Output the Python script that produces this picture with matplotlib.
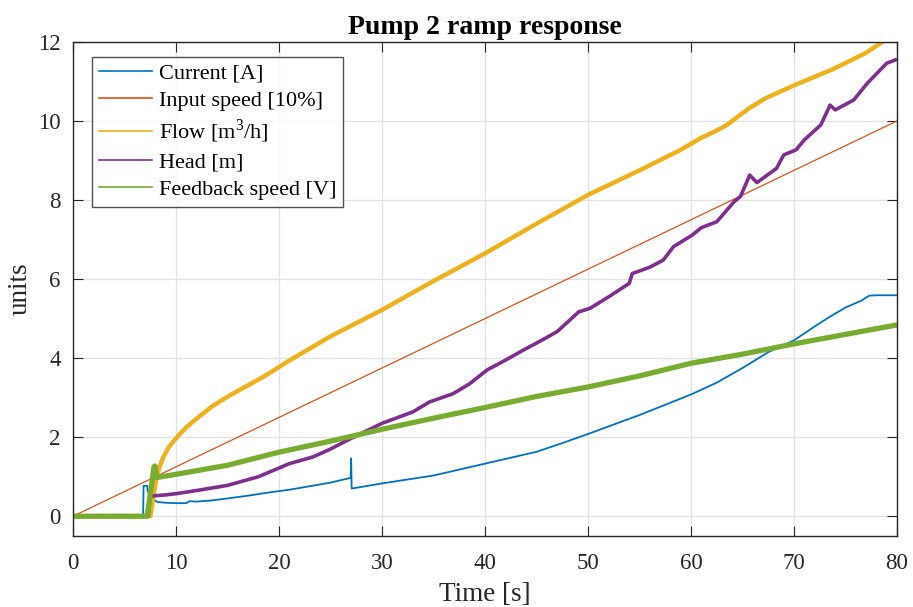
import matplotlib
matplotlib.use("Agg")
import matplotlib.pyplot as plt
from matplotlib.lines import Line2D

plt.rcParams['font.family'] = ['Liberation Serif', 'DejaVu Serif']
plt.rcParams['mathtext.fontset'] = 'custom'
plt.rcParams['mathtext.rm'] = 'Liberation Serif'

# ---- data ----
current_t = [0, 6.8, 6.85, 7.2, 7.25, 7.55, 7.8, 8.2, 9.0, 10.0, 11.0, 11.3, 12.0, 13.5, 15, 17, 19, 21, 23, 25,
             26.95, 27.0, 27.05, 30, 32.5, 35, 37.5, 40, 42.5, 45, 47.5, 50, 52.5, 55, 57.5, 60, 62.5,
             65, 67.5, 70, 72, 73.5, 75, 76.5, 77.3, 78, 80]
current_v = [0, 0, 0.77, 0.77, 0.62, 0.6, 0.42, 0.36, 0.34, 0.33, 0.33, 0.38, 0.37, 0.40, 0.45, 0.52, 0.6, 0.67, 0.76, 0.85,
             0.97, 1.46, 0.70, 0.83, 0.93, 1.03, 1.18, 1.33, 1.48, 1.63, 1.85, 2.08, 2.32, 2.56, 2.82, 3.08, 3.38,
             3.75, 4.15, 4.45, 4.8, 5.05, 5.28, 5.45, 5.58, 5.59, 5.59]

input_t = [0, 80]
input_v = [0, 10]

flow_t = [0, 7.5, 7.8, 8.12, 8.4, 8.77, 9.3, 10.16, 11.0, 12.0, 13.5, 15.24, 18.5, 21.07, 25, 30, 35, 40, 45, 50,
          55, 59, 60.9, 62.5, 63.5, 64.6, 65.7, 67.2, 70, 73.7, 76.9, 78.9, 80]
flow_v = [0, 0, 0.5, 1.0, 1.25, 1.5, 1.75, 2.02, 2.25, 2.47, 2.78, 3.06, 3.53, 3.95, 4.55, 5.22, 5.95, 6.65, 7.4, 8.13,
          8.75, 9.27, 9.56, 9.76, 9.9, 10.12, 10.33, 10.57, 10.9, 11.3, 11.71, 12.05, 12.25]

head_t = [0, 7.3, 7.5, 8, 9, 10, 12, 15, 18, 21, 23.3, 25, 27, 30, 33, 34.6, 36.9, 38.5, 40.2, 42, 43.7,
          45.5, 47, 49.1, 50.2, 52, 54, 54.3, 56, 57.3, 58.3, 60.1, 61, 62.5, 64.2, 64.8, 65.7, 66.4,
          68.3, 69, 70.2, 71, 72.6, 73.5, 74, 75.8, 77.1, 79, 80]
head_v = [0, 0, 0.50, 0.52, 0.54, 0.57, 0.65, 0.78, 1.0, 1.33, 1.5, 1.7, 1.97, 2.35, 2.64, 2.89, 3.1, 3.35, 3.7, 3.95, 4.2,
          4.45, 4.67, 5.17, 5.26, 5.55, 5.89, 6.14, 6.3, 6.48, 6.82, 7.11, 7.3, 7.45, 7.96, 8.09, 8.63, 8.44,
          8.8, 9.14, 9.27, 9.52, 9.9, 10.4, 10.28, 10.53, 10.95, 11.46, 11.56]

fb_t = [0, 7.2, 7.86, 7.95, 8.12, 10, 15, 20, 25, 30, 35, 40, 45, 50, 55, 60, 65, 70.2, 75, 80]
fb_v = [0, 0, 1.25, 1.27, 0.98, 1.06, 1.29, 1.62, 1.9, 2.2, 2.48, 2.75, 3.03, 3.27, 3.55, 3.87, 4.1, 4.37, 4.6, 4.84]

labels = ['Current [A]', 'Input speed [10%]', r'Flow [m$^3$/h]', 'Head [m]', 'Feedback speed [V]']
colors = ['#0072BD', '#D95319', '#EDB120', '#7E2F8E', '#77AC30']
xticks = [0, 10, 20, 30, 40, 50, 60, 70, 80]
yticks = [0, 2, 4, 6, 8, 10, 12]

fig = plt.figure(figsize=(9.13, 6.07), dpi=100)
ax = fig.add_axes([0.080, 0.117, 0.9025, 0.814])

series = [(current_t, current_v, 1.3), (input_t, input_v, 0.9), (flow_t, flow_v, 3.2),
          (head_t, head_v, 2.6), (fb_t, fb_v, 3.8)]
for (t, v, lw), c in zip(series, colors):
    ax.plot(t, v, color=c, lw=lw, solid_joinstyle='round', solid_capstyle='butt')

ax.set_xlim(0, 80)
ax.set_ylim(-0.5, 12)
ax.set_xticks(xticks)
ax.set_yticks(yticks)
ax.grid(True, color='#e3e3e3', lw=1)
ax.set_axisbelow(True)
ax.tick_params(direction='in', length=7, width=0.8, top=True, right=True,
               labelsize=16.5, colors='#262626', pad=9)
ax.tick_params(axis='x', pad=12)
for s in ax.spines.values():
    s.set_color('#262626')
    s.set_linewidth(1.0)

ax.set_xlabel('Time [s]', fontsize=19.5, color='#262626', labelpad=6)
ax.set_ylabel('units', fontsize=19.5, color='#262626', labelpad=4)
ax.set_title('Pump 2 ramp response', fontsize=20, fontweight='bold', pad=6)

handles = [Line2D([], [], color=c, lw=1.2) for c in colors]
leg = ax.legend(handles, labels, loc='upper left', bbox_to_anchor=(0.023, 0.97),
                fontsize=16, frameon=True, fancybox=False, edgecolor='#262626',
                handlelength=2.4, handletextpad=0.3, labelspacing=0.3, borderpad=0.3,
                borderaxespad=0)
leg.get_frame().set_linewidth(1.0)

fig.savefig('out.png', dpi=100)
